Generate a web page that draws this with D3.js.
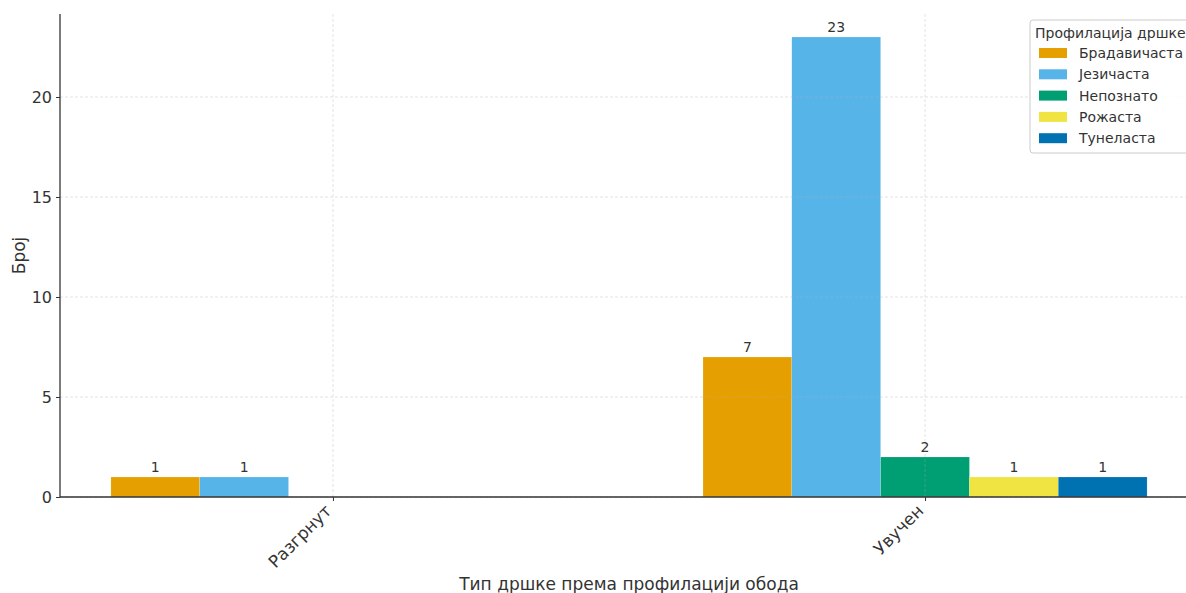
<!DOCTYPE html>
<html><head><meta charset="utf-8">
<script src="https://cdn.jsdelivr.net/npm/d3@7"></script>
<style>body{margin:0;background:#fff;} svg{display:block;font-family:"DejaVu Sans",sans-serif;}</style>
</head><body><svg id="c" width="1186" height="593"></svg>
<script>
const categories = ["Разгрнут", "Увучен"];
const seriesNames = ["Брадавичаста", "Језичаста", "Непознато", "Рожаста", "Тунеласта"];
const seriesValues = [
  [1, 7],
  [1, 23],
  [null, 2],
  [null, 1],
  [null, 1]
];
const colors = ["#E69F00", "#56B4E9", "#009E73", "#F0E442", "#0072B2"];
const yTicks = [0, 5, 10, 15, 20];
const legendTitle = "Профилација дршке";
const xTitle = "Тип дршке према профилацији обода";
const yTitle = "Број";

const svg = d3.select("#c");
const L = 60, T = 14, B = 497, R = 1198;
const x = d3.scaleLinear().domain([-0.461, 1.461]).range([L, R]);
const y = d3.scaleLinear().domain([0, 23 * 1.05]).range([B, T]);
const bw = 0.15;
const n = seriesNames.length;
const txt = "#333";

// bars
seriesNames.forEach((s, si) => {
  categories.forEach((c, ci) => {
    const v = seriesValues[si][ci];
    if (v == null) return;
    const x0 = x(ci - bw * n / 2 + si * bw), x1 = x(ci - bw * n / 2 + (si + 1) * bw);
    svg.append("rect").attr("x", x0).attr("y", y(v)).attr("width", x1 - x0).attr("height", y(0) - y(v))
      .attr("fill", colors[si]).attr("stroke", "#fff").attr("stroke-width", 0.4).attr("stroke-opacity", 0.4);
    svg.append("text").attr("x", (x0 + x1) / 2).attr("y", y(v) - 5).attr("text-anchor", "middle")
      .attr("font-size", 14).attr("fill", txt).text(v);
  });
});

// grid
const g = svg.append("g");
yTicks.forEach(t => {
  g.append("line").attr("x1", L).attr("x2", R).attr("y1", y(t)).attr("y2", y(t))
    .attr("stroke", "#b0b0b0").attr("stroke-opacity", 0.5).attr("stroke-dasharray", "3,2").attr("stroke-width", 0.7);
});
categories.forEach((c, i) => {
  g.append("line").attr("x1", x(i)).attr("x2", x(i)).attr("y1", T).attr("y2", B)
    .attr("stroke", "#b0b0b0").attr("stroke-opacity", 0.5).attr("stroke-dasharray", "3,2").attr("stroke-width", 0.7);
});

// axes
const yAxis = svg.append("g").attr("transform", `translate(${L},0)`)
  .call(d3.axisLeft(y).tickValues(yTicks).tickSize(4).tickPadding(4).tickSizeOuter(0));
yAxis.select(".domain").remove();
yAxis.selectAll("line").attr("stroke", txt);
yAxis.selectAll("text").attr("font-size", 16).attr("fill", txt).attr("font-family", "DejaVu Sans");
svg.append("line").attr("x1", L).attr("x2", L).attr("y1", T).attr("y2", B).attr("stroke", txt).attr("stroke-width", 1.3);

const xAxis = svg.append("g").attr("transform", `translate(0,${B})`)
  .call(d3.axisBottom(x).tickValues(categories.map((c, i) => i)).tickFormat(i => categories[i]).tickSize(4).tickSizeOuter(0));
xAxis.select(".domain").remove();
xAxis.selectAll("line").attr("stroke", txt);
xAxis.selectAll("text").attr("font-size", 17).attr("fill", txt).attr("font-family", "DejaVu Sans")
  .attr("text-anchor", "end").attr("dy", null).attr("y", 0)
  .attr("transform", "translate(-1,15) rotate(-45)");
svg.append("line").attr("x1", L).attr("x2", R).attr("y1", B).attr("y2", B).attr("stroke", txt).attr("stroke-width", 1.3);

// titles
svg.append("text").attr("x", (L + R) / 2).attr("y", 590).attr("text-anchor", "middle")
  .attr("font-size", 17).attr("fill", txt).text(xTitle);
svg.append("text").attr("transform", `translate(25,${(T + B) / 2}) rotate(-90)`).attr("text-anchor", "middle")
  .attr("font-size", 17).attr("fill", txt).text(yTitle);

// legend
const lg = svg.append("g").attr("transform", "translate(1030,20)");
lg.append("rect").attr("x", 0).attr("y", 0).attr("width", 190).attr("height", 133).attr("rx", 3)
  .attr("fill", "#fff").attr("fill-opacity", 0.85).attr("stroke", "#ccc");
lg.append("text").attr("x", 5).attr("y", 18).attr("font-size", 14).attr("fill", txt).text(legendTitle);
seriesNames.forEach((s, i) => {
  const yy = 33 + i * 21.3;
  lg.append("rect").attr("x", 9).attr("y", yy - 5).attr("width", 28).attr("height", 10).attr("fill", colors[i]);
  lg.append("text").attr("x", 49).attr("y", yy + 5).attr("font-size", 14).attr("fill", txt).text(s);
});
</script></body></html>
